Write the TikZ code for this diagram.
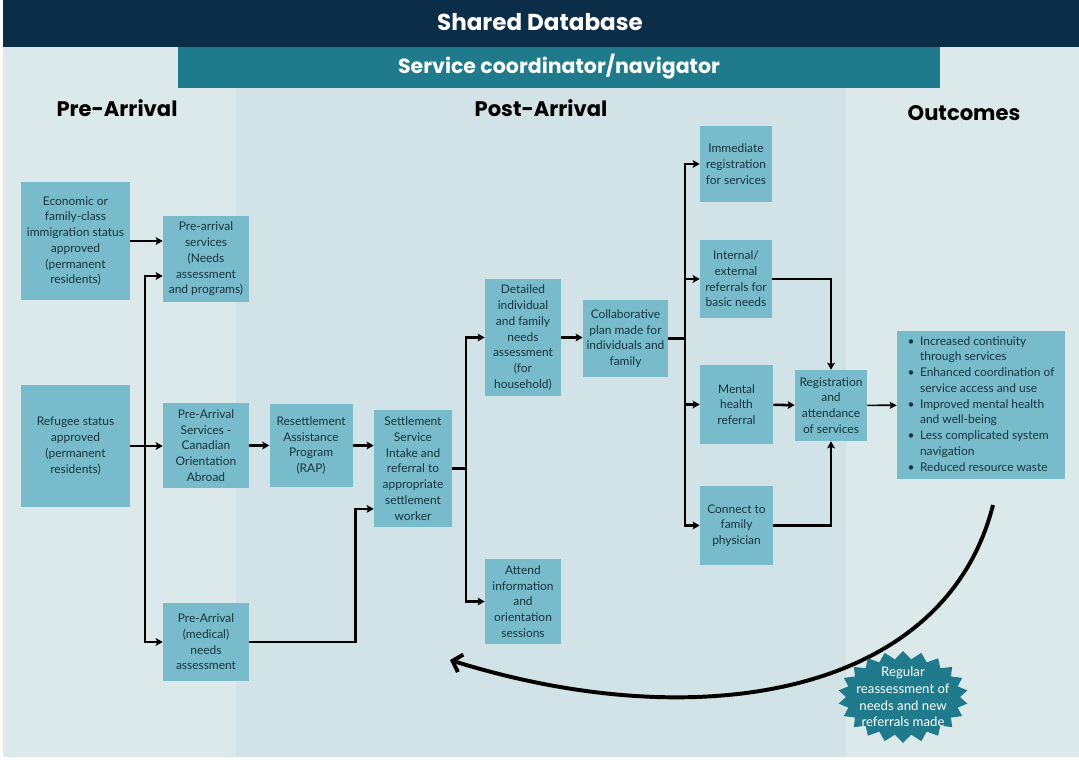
\documentclass[tikz,border=0pt]{standalone}
\usepackage{fontspec}
\setmainfont{Lato}
\newfontfamily\headfont{Poppins}
\usepackage{xcolor}
\usetikzlibrary{arrows.meta, positioning, shapes.symbols}

\definecolor{navybar}{HTML}{0C2D48}
\definecolor{tealbar}{HTML}{1F7B8C}
\definecolor{boxteal}{HTML}{78BBCA}
\definecolor{boxtext}{HTML}{173540}
\definecolor{bglight}{HTML}{DCE9EB}
\definecolor{bgmid}{HTML}{D2E3E7}

\begin{document}
\begin{tikzpicture}[
    x=0.025cm, y=-0.025cm,
    box/.style={rectangle, fill=boxteal, text=boxtext, font=\fontsize{8.5}{11.2}\selectfont, align=center, inner sep=1pt},
    head/.style={font=\headfont\bfseries\fontsize{15}{17}\selectfont, text=black},
    bartitle/.style={font=\headfont\bfseries, text=white},
    link/.style={line width=1.8pt, black},
    arr/.style={-{Stealth[length=5pt, width=5.5pt, inset=1pt]}, line width=1.8pt, black},
    thinarr/.style={-{Stealth[length=5pt, width=5pt, inset=1pt]}, line width=1.2pt, black},
    loop/.style={-{Straight Barb[length=6pt, width=13pt]}, line width=2.8pt, black}
]

\useasboundingbox (0,0) rectangle (1079,760);

% Background bands
\fill[white] (0,0) rectangle (1079,760);
\fill[bglight] (3,47) rectangle (1079,757);
\fill[bgmid] (236,88) rectangle (846,757);
\fill[navybar] (3,0) rectangle (1079,47);
\fill[tealbar] (178,47) rectangle (940,88);

% Titles
\node[bartitle, font=\headfont\bfseries\fontsize{16.4}{18}\selectfont] (db) at (540,22) {Shared Database};
\node[bartitle, font=\headfont\bfseries\fontsize{14.6}{16}\selectfont] (nav) at (559,67) {Service coordinator/navigator};
\node[head] (pre) at (117,108) {Pre-Arrival};
\node[head] (post) at (541,108) {Post-Arrival};
\node[head] (out) at (964,113) {Outcomes};

% Pre-arrival
\node[box, minimum width=2.725cm, minimum height=2.95cm] (econ) at (75.5,241) {Economic or\\family-class\\immigration status\\approved\\(permanent\\residents)};
\node[box, minimum width=2.725cm, minimum height=3.05cm] (refugee) at (75.5,446) {Refugee status\\approved\\(permanent\\residents)};
\node[box, minimum width=2.15cm, minimum height=2.15cm] (preserv) at (206,259) {Pre-arrival\\services\\(Needs\\assessment\\and programs)};
\node[box, minimum width=2.15cm, minimum height=2.125cm] (cao) at (206,445.5) {Pre-Arrival\\Services -\\Canadian\\Orientation\\Abroad};
\node[box, minimum width=2.15cm, minimum height=1.95cm] (medical) at (206,642) {Pre-Arrival\\(medical)\\needs\\assessment};
\node[box, minimum width=2.075cm, minimum height=2.075cm, right=0.5cm of cao] (rap) {Resettlement\\Assistance\\Program\\(RAP)};

% Post-arrival
\node[box, minimum width=1.95cm, minimum height=2.925cm] (intake) at (413,468.5) {Settlement\\Service\\Intake and\\referral to\\appropriate\\settlement\\worker};
\node[box, minimum width=1.9cm, minimum height=2.925cm] (detailed) at (523,337.5) {Detailed\\individual\\and family\\needs\\assessment\\(for\\household)};
\node[box, minimum width=1.9cm, minimum height=2.125cm] (attend) at (523,601.5) {Attend\\information\\and\\orientation\\sessions};
\node[box, minimum width=2.125cm, minimum height=1.925cm] (collab) at (625.5,338.5) {Collaborative\\plan made for\\individuals and\\family};
\node[box, minimum width=1.8cm, minimum height=1.9cm] (immediate) at (736,164) {Immediate\\registration\\for services};
\node[box, minimum width=1.8cm, minimum height=1.95cm] (internal) at (736,279) {Internal/\\external\\referrals for\\basic needs};
\node[box, minimum width=1.825cm, minimum height=1.975cm] (mental) at (736.5,404.5) {Mental\\health\\referral};
\node[box, minimum width=1.825cm, minimum height=1.975cm] (physician) at (736.5,525.5) {Connect to\\family\\physician};
\node[box, minimum width=1.8cm, minimum height=1.775cm] (registration) at (831,405.5) {Registration\\and\\attendance\\of services};

% Outcomes
\node[box, minimum width=4.2cm, minimum height=3.7cm] (outcomes) at (981,405) {%
  \begin{tabular}{@{}l@{\hspace{4pt}}l@{}}
  \textbullet & Increased continuity\\
              & through services\\
  \textbullet & Enhanced coordination of\\
              & service access and use\\
  \textbullet & Improved mental health\\
              & and well-being\\
  \textbullet & Less complicated system\\
              & navigation\\
  \textbullet & Reduced resource waste
  \end{tabular}};

% Junctions
\coordinate (j1) at (145,446);
\coordinate (j2) at (466,468.5);
\coordinate (j3) at (685,338.5);

% Pre-arrival links
\draw[arr] (econ.east) -- (econ.east -| preserv.west);
\draw[arr] (refugee.east) -- (refugee.east -| cao.west);
\draw[arr] (j1) |- ([yshift=-0.425cm]preserv.west);
\draw[arr] (j1) |- (medical.west);
\draw[arr] (cao) -- (rap);
\draw[arr] (rap.east) -- (rap.east -| intake.west);
\draw[arr] (medical.east) -- ++(106,0) |- ([yshift=-1.01cm]intake.west);

% Post-arrival links
\draw[link] (intake.east) -- (j2);
\draw[arr] (j2) |- (detailed.west);
\draw[arr] (j2) |- (attend.west);
\draw[arr] (detailed.east) -- (detailed.east -| collab.west);
\draw[link] (collab.east) -- (j3);
\draw[arr] (j3) |- (immediate.west);
\draw[arr] (j3) |- (internal.west);
\draw[arr] (j3) |- (mental.west);
\draw[arr] (j3) |- (physician.west);
\draw[arr] (internal.east) -| (registration.north);
\draw[arr] (mental) -- (registration);
\draw[arr] (physician.east) -| (registration.south);
\draw[thinarr] (registration) -- (outcomes);

% Feedback loop
\coordinate (loopstart) at (993,505);
\coordinate (loopend) at (450,660);
\draw[loop] (loopstart) .. controls (945,695) and (700,738) .. (loopend);
\node[starburst, starburst points=22, starburst point height=0.2cm, random starburst=0,
      fill=tealbar, text=white, font=\fontsize{9.4}{11.8}\selectfont, align=center,
      inner sep=-5pt, minimum width=3.25cm, minimum height=2.3cm] (reassess) at (903,697)
      {Regular\\reassessment of\\needs and new\\referrals made};

\end{tikzpicture}
\end{document}
